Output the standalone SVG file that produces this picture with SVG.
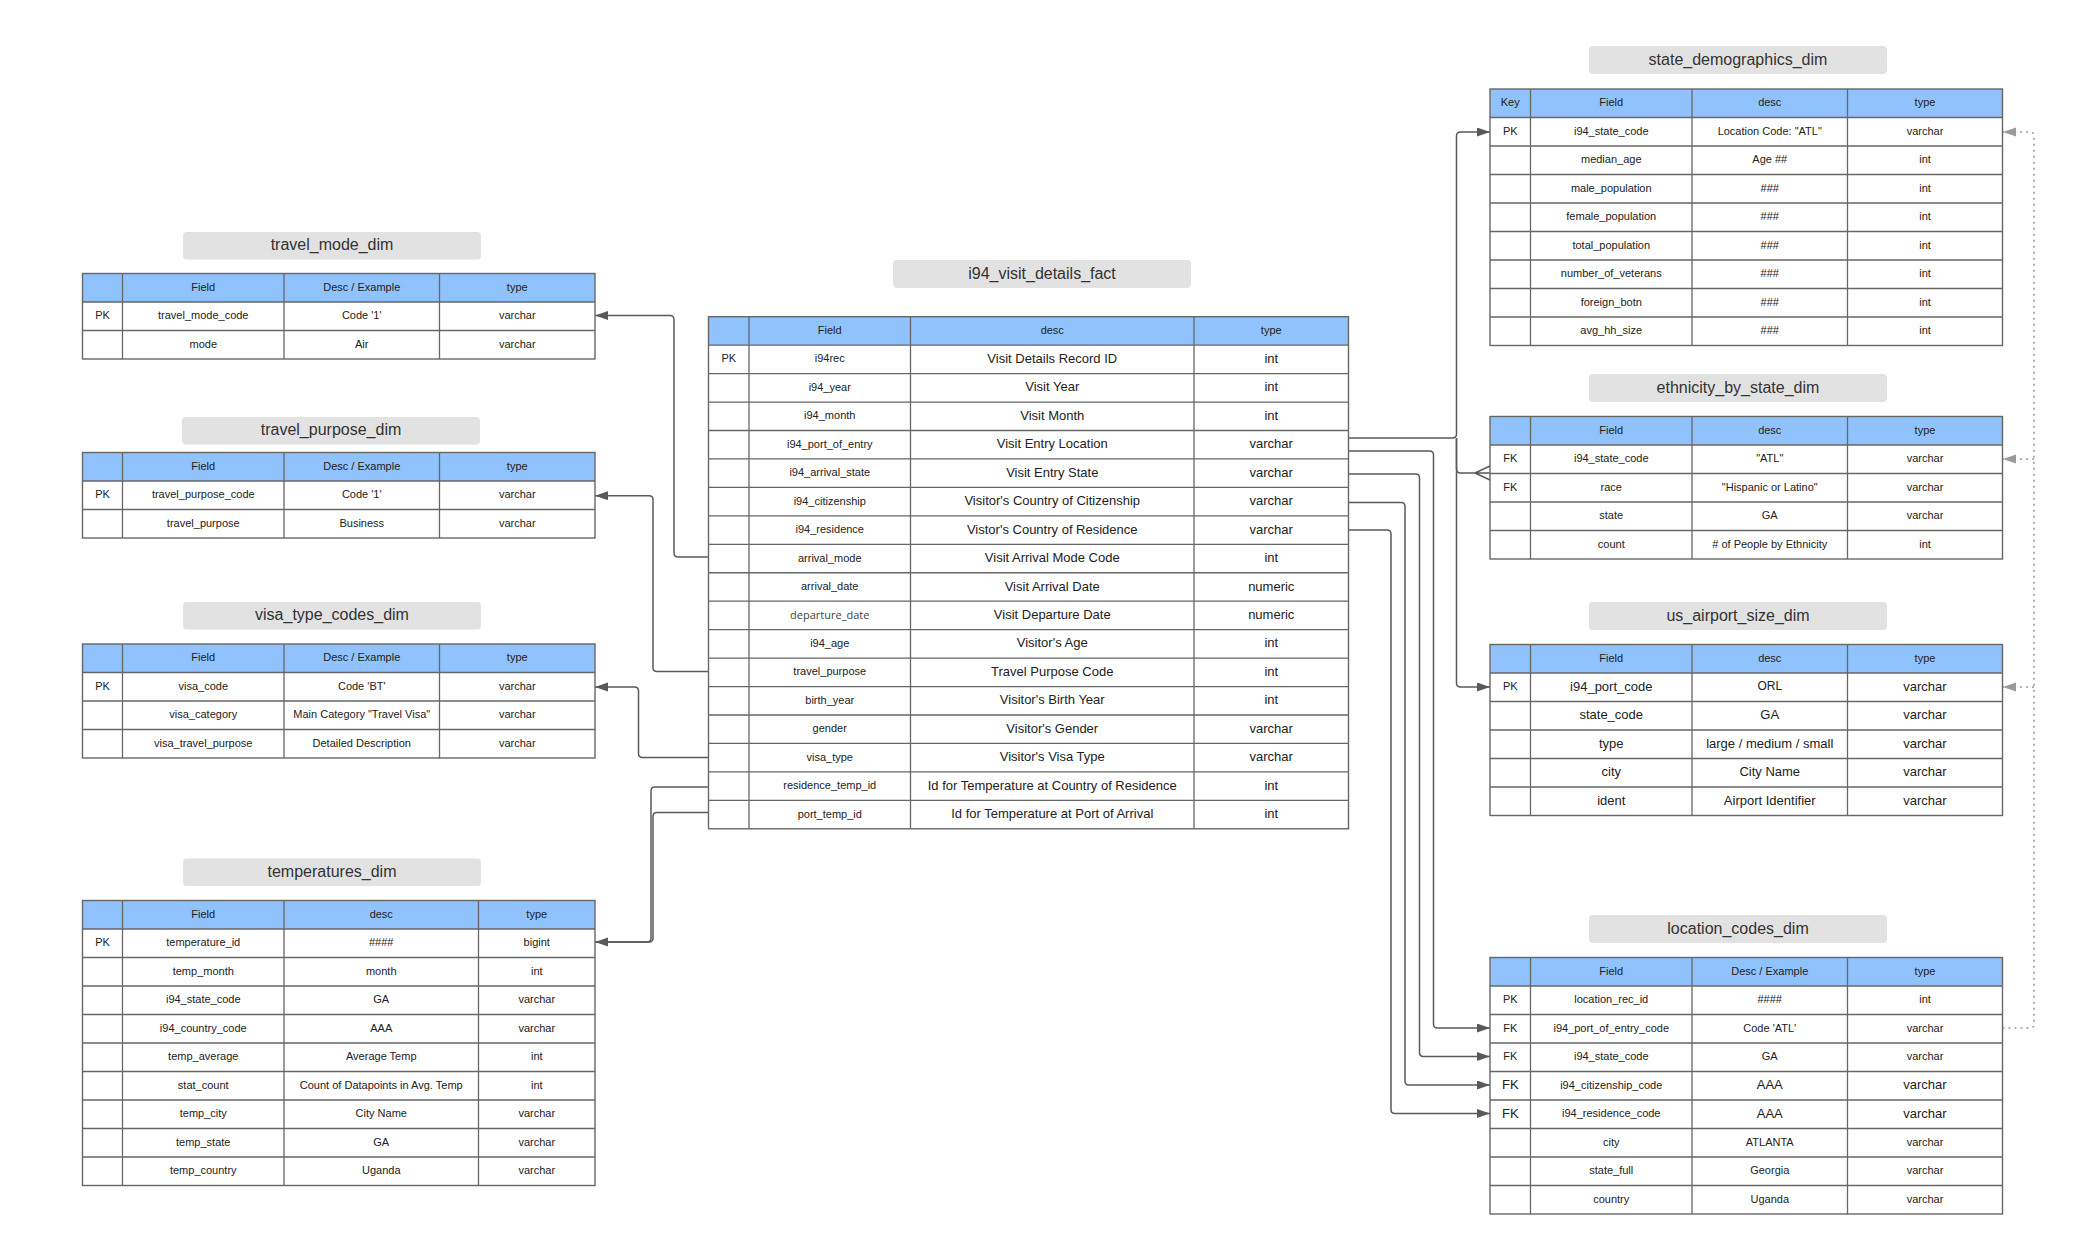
<svg xmlns="http://www.w3.org/2000/svg" width="2086" height="1252" viewBox="0 0 2086 1252">
<style>
text{font-family:"Liberation Sans",Arial,sans-serif;fill:#222;text-anchor:middle;dominant-baseline:central;font-size:11px;transform:translateY(-1px)}
.ttl{font-size:16px;fill:#333}
.tt{fill:#e2e2e2}
.hd{fill:#90c2fd}
.tb{fill:none;stroke:#676767;stroke-width:1.4}
.gl{fill:none;stroke:#676767;stroke-width:1.3}
.m{font-size:13px}
.s{font-size:12px}
.od{font-family:"Open Sans","Liberation Sans",sans-serif;fill:#444;font-size:11px}
.c{fill:none;stroke:#5a5a5a;stroke-width:1.5}
.d{fill:none;stroke:#9a9a9a;stroke-width:1.6;stroke-dasharray:2 4}
</style>
<defs>
<marker id="ar" markerUnits="userSpaceOnUse" markerWidth="14" markerHeight="10" refX="13" refY="4.5" orient="auto"><path d="M0,0L13,4.5L0,9z" fill="#595959"/></marker>
<marker id="ad" markerUnits="userSpaceOnUse" markerWidth="14" markerHeight="10" refX="13" refY="4.5" orient="auto"><path d="M0,0L13,4.5L0,9z" fill="#9a9a9a"/></marker>
</defs>
<rect width="2086" height="1252" fill="#fff"/>

<g id="connectors">
<path class="c" d="M708.5,557H678Q674,557 674,553V319.5Q674,315.5 670,315.5H595" marker-end="url(#ar)"/>
<path class="c" d="M708.5,671.6H657Q653,671.6 653,667.6V499.7Q653,495.7 649,495.7H595" marker-end="url(#ar)"/>
<path class="c" d="M708.5,757.5H642.5Q638.5,757.5 638.5,753.5V691Q638.5,687 634.5,687H595" marker-end="url(#ar)"/>
<path class="c" d="M708.5,787H655Q651,787 651,791V938Q651,942 647,942H595"/>
<path class="c" d="M708.5,812.5H657Q653,812.5 653,816.5V938Q653,942 649,942H595" marker-end="url(#ar)"/>
<path class="c" d="M1348.5,438H1452.5Q1456.5,438 1456.5,434V136Q1456.5,132 1460.5,132H1490" marker-end="url(#ar)"/>
<path class="c" d="M1456.5,438V469Q1456.5,473 1460.5,473H1490M1475,473L1490,466M1475,473L1490,480"/>
<path class="c" d="M1456.5,438V683Q1456.5,687 1460.5,687H1490" marker-end="url(#ar)"/>
<path class="c" d="M1348.5,451H1429.5Q1433.5,451 1433.5,455V1024Q1433.5,1028 1437.5,1028H1490" marker-end="url(#ar)"/>
<path class="c" d="M1348.5,474H1415.5Q1419.5,474 1419.5,478V1052.5Q1419.5,1056.5 1423.5,1056.5H1490" marker-end="url(#ar)"/>
<path class="c" d="M1348.5,502.5H1401Q1405,502.5 1405,506.5V1081Q1405,1085 1409,1085H1490" marker-end="url(#ar)"/>
<path class="c" d="M1348.5,530H1387Q1391,530 1391,534V1109.5Q1391,1113.5 1395,1113.5H1490" marker-end="url(#ar)"/>
<path class="d" d="M2002.5,1028H2030Q2034,1028 2034,1024V136Q2034,132 2030,132H2003" marker-end="url(#ad)"/>
<path class="d" d="M2034,459H2003" marker-end="url(#ad)"/>
<path class="d" d="M2034,687H2003" marker-end="url(#ad)"/>
</g>

<g id="travel_mode_dim">
<rect class="tt" x="183" y="232" width="298" height="27.5" rx="4"/>
<text class="ttl" x="332" y="245.75">travel_mode_dim</text>
<rect class="hd" x="82.5" y="273.5" width="512.5" height="28.5"/>
<path class="gl" d="M122.5,273.5V359M284,273.5V359M439.5,273.5V359M82.5,302H595M82.5,330.5H595"/>
<rect class="tb" x="82.5" y="273.5" width="512.5" height="85.5"/>
<text x="203.25" y="287.75">Field</text><text x="361.75" y="287.75">Desc / Example</text><text x="517.25" y="287.75">type</text>
<text x="102.5" y="316.25">PK</text><text x="203.25" y="316.25">travel_mode_code</text><text x="361.75" y="316.25">Code '1'</text><text x="517.25" y="316.25">varchar</text>
<text x="203.25" y="344.75">mode</text><text x="361.75" y="344.75">Air</text><text x="517.25" y="344.75">varchar</text>
</g>

<g id="travel_purpose_dim">
<rect class="tt" x="182" y="417" width="298" height="27.5" rx="4"/>
<text class="ttl" x="331" y="430.75">travel_purpose_dim</text>
<rect class="hd" x="82.5" y="452.5" width="512.5" height="28.5"/>
<path class="gl" d="M122.5,452.5V538M284,452.5V538M439.5,452.5V538M82.5,481H595M82.5,509.5H595"/>
<rect class="tb" x="82.5" y="452.5" width="512.5" height="85.5"/>
<text x="203.25" y="466.75">Field</text><text x="361.75" y="466.75">Desc / Example</text><text x="517.25" y="466.75">type</text>
<text x="102.5" y="495.25">PK</text><text x="203.25" y="495.25">travel_purpose_code</text><text x="361.75" y="495.25">Code '1'</text><text x="517.25" y="495.25">varchar</text>
<text x="203.25" y="523.75">travel_purpose</text><text x="361.75" y="523.75">Business</text><text x="517.25" y="523.75">varchar</text>
</g>

<g id="visa_type_codes_dim">
<rect class="tt" x="183" y="602" width="298" height="27.5" rx="4"/>
<text class="ttl" x="332" y="615.75">visa_type_codes_dim</text>
<rect class="hd" x="82.5" y="644" width="512.5" height="28.5"/>
<path class="gl" d="M122.5,644V758M284,644V758M439.5,644V758M82.5,672.5H595M82.5,701H595M82.5,729.5H595"/>
<rect class="tb" x="82.5" y="644" width="512.5" height="114"/>
<text x="203.25" y="658.25">Field</text><text x="361.75" y="658.25">Desc / Example</text><text x="517.25" y="658.25">type</text>
<text x="102.5" y="686.75">PK</text><text x="203.25" y="686.75">visa_code</text><text x="361.75" y="686.75">Code 'BT'</text><text x="517.25" y="686.75">varchar</text>
<text x="203.25" y="715.25">visa_category</text><text x="361.75" y="715.25">Main Category "Travel Visa"</text><text x="517.25" y="715.25">varchar</text>
<text x="203.25" y="743.75">visa_travel_purpose</text><text x="361.75" y="743.75">Detailed Description</text><text x="517.25" y="743.75">varchar</text>
</g>

<g id="temperatures_dim">
<rect class="tt" x="183" y="858.5" width="298" height="27.5" rx="4"/>
<text class="ttl" x="332" y="872.25">temperatures_dim</text>
<rect class="hd" x="82.5" y="900.5" width="512.5" height="28.5"/>
<path class="gl" d="M122.5,900.5V1185.5M284,900.5V1185.5M478.5,900.5V1185.5M82.5,929H595M82.5,957.5H595M82.5,986H595M82.5,1014.5H595M82.5,1043H595M82.5,1071.5H595M82.5,1100H595M82.5,1128.5H595M82.5,1157H595"/>
<rect class="tb" x="82.5" y="900.5" width="512.5" height="285"/>
<text x="203.25" y="914.75">Field</text><text x="381.25" y="914.75">desc</text><text x="536.75" y="914.75">type</text>
<text x="102.5" y="943.25">PK</text><text x="203.25" y="943.25">temperature_id</text><text x="381.25" y="943.25">####</text><text x="536.75" y="943.25">bigint</text>
<text x="203.25" y="971.75">temp_month</text><text x="381.25" y="971.75">month</text><text x="536.75" y="971.75">int</text>
<text x="203.25" y="1000.25">i94_state_code</text><text x="381.25" y="1000.25">GA</text><text x="536.75" y="1000.25">varchar</text>
<text x="203.25" y="1028.75">i94_country_code</text><text x="381.25" y="1028.75">AAA</text><text x="536.75" y="1028.75">varchar</text>
<text x="203.25" y="1057.25">temp_average</text><text x="381.25" y="1057.25">Average Temp</text><text x="536.75" y="1057.25">int</text>
<text x="203.25" y="1085.75">stat_count</text><text x="381.25" y="1085.75">Count of Datapoints in Avg. Temp</text><text x="536.75" y="1085.75">int</text>
<text x="203.25" y="1114.25">temp_city</text><text x="381.25" y="1114.25">City Name</text><text x="536.75" y="1114.25">varchar</text>
<text x="203.25" y="1142.75">temp_state</text><text x="381.25" y="1142.75">GA</text><text x="536.75" y="1142.75">varchar</text>
<text x="203.25" y="1171.25">temp_country</text><text x="381.25" y="1171.25">Uganda</text><text x="536.75" y="1171.25">varchar</text>
</g>

<g id="i94_visit_details_fact">
<rect class="tt" x="893" y="260" width="298" height="28" rx="4"/>
<text class="ttl" x="1042" y="274">i94_visit_details_fact</text>
<rect class="hd" x="708.5" y="316.7" width="640" height="28.45"/>
<path class="gl" d="M749,316.7V828.8M910.5,316.7V828.8M1194,316.7V828.8M708.5,345.15H1348.5M708.5,373.6H1348.5M708.5,402.05H1348.5M708.5,430.5H1348.5M708.5,458.95H1348.5M708.5,487.4H1348.5M708.5,515.85H1348.5M708.5,544.3H1348.5M708.5,572.75H1348.5M708.5,601.2H1348.5M708.5,629.65H1348.5M708.5,658.1H1348.5M708.5,686.55H1348.5M708.5,715H1348.5M708.5,743.45H1348.5M708.5,771.9H1348.5M708.5,800.35H1348.5"/>
<rect class="tb" x="708.5" y="316.7" width="640" height="512.1"/>
<text x="829.75" y="330.9">Field</text><text x="1052.25" y="330.9">desc</text><text x="1271.25" y="330.9">type</text>
<text x="728.75" y="359.4">PK</text><text x="829.75" y="359.4">i94rec</text><text class="m" x="1052.25" y="359.4">Visit Details Record ID</text><text class="m" x="1271.25" y="359.4">int</text>
<text x="829.75" y="387.8">i94_year</text><text class="m" x="1052.25" y="387.8">Visit Year</text><text class="m" x="1271.25" y="387.8">int</text>
<text x="829.75" y="416.3">i94_month</text><text class="m" x="1052.25" y="416.3">Visit Month</text><text class="m" x="1271.25" y="416.3">int</text>
<text x="829.75" y="444.7">i94_port_of_entry</text><text class="m" x="1052.25" y="444.7">Visit Entry Location</text><text class="m" x="1271.25" y="444.7">varchar</text>
<text x="829.75" y="473.2">i94_arrival_state</text><text class="m" x="1052.25" y="473.2">Visit Entry State</text><text class="m" x="1271.25" y="473.2">varchar</text>
<text x="829.75" y="501.6">i94_citizenship</text><text class="m" x="1052.25" y="501.6">Visitor's Country of Citizenship</text><text class="m" x="1271.25" y="501.6">varchar</text>
<text x="829.75" y="530.1">i94_residence</text><text class="m" x="1052.25" y="530.1">Vistor's Country of Residence</text><text class="m" x="1271.25" y="530.1">varchar</text>
<text x="829.75" y="558.5">arrival_mode</text><text class="m" x="1052.25" y="558.5">Visit Arrival Mode Code</text><text class="m" x="1271.25" y="558.5">int</text>
<text x="829.75" y="587">arrival_date</text><text class="m" x="1052.25" y="587">Visit Arrival Date</text><text class="m" x="1271.25" y="587">numeric</text>
<text class="od" x="829.75" y="615.4">departure_date</text><text class="m" x="1052.25" y="615.4">Visit Departure Date</text><text class="m" x="1271.25" y="615.4">numeric</text>
<text x="829.75" y="643.9">i94_age</text><text class="m" x="1052.25" y="643.9">Visitor's Age</text><text class="m" x="1271.25" y="643.9">int</text>
<text x="829.75" y="672.3">travel_purpose</text><text class="m" x="1052.25" y="672.3">Travel Purpose Code</text><text class="m" x="1271.25" y="672.3">int</text>
<text x="829.75" y="700.8">birth_year</text><text class="m" x="1052.25" y="700.8">Visitor's Birth Year</text><text class="m" x="1271.25" y="700.8">int</text>
<text x="829.75" y="729.2">gender</text><text class="m" x="1052.25" y="729.2">Visitor's Gender</text><text class="m" x="1271.25" y="729.2">varchar</text>
<text x="829.75" y="757.7">visa_type</text><text class="m" x="1052.25" y="757.7">Visitor's Visa Type</text><text class="m" x="1271.25" y="757.7">varchar</text>
<text x="829.75" y="786.1">residence_temp_id</text><text class="m" x="1052.25" y="786.1">Id for Temperature at Country of Residence</text><text class="m" x="1271.25" y="786.1">int</text>
<text x="829.75" y="814.6">port_temp_id</text><text class="m" x="1052.25" y="814.6">Id for Temperature at Port of Arrival</text><text class="m" x="1271.25" y="814.6">int</text>
</g>

<g id="state_demographics_dim">
<rect class="tt" x="1589" y="46" width="298" height="28" rx="4"/>
<text class="ttl" x="1738" y="60">state_demographics_dim</text>
<rect class="hd" x="1490" y="89" width="512.5" height="28.5"/>
<path class="gl" d="M1530.5,89V345.5M1692,89V345.5M1847.5,89V345.5M1490,117.5H2002.5M1490,146H2002.5M1490,174.5H2002.5M1490,203H2002.5M1490,231.5H2002.5M1490,260H2002.5M1490,288.5H2002.5M1490,317H2002.5"/>
<rect class="tb" x="1490" y="89" width="512.5" height="256.5"/>
<text x="1510.25" y="103.25">Key</text><text x="1611.25" y="103.25">Field</text><text x="1769.75" y="103.25">desc</text><text x="1925" y="103.25">type</text>
<text x="1510.25" y="131.75">PK</text><text x="1611.25" y="131.75">i94_state_code</text><text x="1769.75" y="131.75">Location Code: "ATL"</text><text x="1925" y="131.75">varchar</text>
<text x="1611.25" y="160.25">median_age</text><text x="1769.75" y="160.25">Age ##</text><text x="1925" y="160.25">int</text>
<text x="1611.25" y="188.75">male_population</text><text x="1769.75" y="188.75">###</text><text x="1925" y="188.75">int</text>
<text x="1611.25" y="217.25">female_population</text><text x="1769.75" y="217.25">###</text><text x="1925" y="217.25">int</text>
<text x="1611.25" y="245.75">total_population</text><text x="1769.75" y="245.75">###</text><text x="1925" y="245.75">int</text>
<text x="1611.25" y="274.25">number_of_veterans</text><text x="1769.75" y="274.25">###</text><text x="1925" y="274.25">int</text>
<text x="1611.25" y="302.75">foreign_botn</text><text x="1769.75" y="302.75">###</text><text x="1925" y="302.75">int</text>
<text x="1611.25" y="331.25">avg_hh_size</text><text x="1769.75" y="331.25">###</text><text x="1925" y="331.25">int</text>
</g>

<g id="ethnicity_by_state_dim">
<rect class="tt" x="1589" y="374" width="298" height="28" rx="4"/>
<text class="ttl" x="1738" y="388">ethnicity_by_state_dim</text>
<rect class="hd" x="1490" y="416.5" width="512.5" height="28.5"/>
<path class="gl" d="M1530.5,416.5V559M1692,416.5V559M1847.5,416.5V559M1490,445H2002.5M1490,473.5H2002.5M1490,502H2002.5M1490,530.5H2002.5"/>
<rect class="tb" x="1490" y="416.5" width="512.5" height="142.5"/>
<text x="1611.25" y="430.75">Field</text><text x="1769.75" y="430.75">desc</text><text x="1925" y="430.75">type</text>
<text x="1510.25" y="459.25">FK</text><text x="1611.25" y="459.25">i94_state_code</text><text x="1769.75" y="459.25">"ATL"</text><text x="1925" y="459.25">varchar</text>
<text x="1510.25" y="487.75">FK</text><text x="1611.25" y="487.75">race</text><text x="1769.75" y="487.75">"Hispanic or Latino"</text><text x="1925" y="487.75">varchar</text>
<text x="1611.25" y="516.25">state</text><text x="1769.75" y="516.25">GA</text><text x="1925" y="516.25">varchar</text>
<text x="1611.25" y="544.75">count</text><text x="1769.75" y="544.75"># of People by Ethnicity</text><text x="1925" y="544.75">int</text>
</g>

<g id="us_airport_size_dim">
<rect class="tt" x="1589" y="602" width="298" height="28" rx="4"/>
<text class="ttl" x="1738" y="616">us_airport_size_dim</text>
<rect class="hd" x="1490" y="644.5" width="512.5" height="28.5"/>
<path class="gl" d="M1530.5,644.5V815.5M1692,644.5V815.5M1847.5,644.5V815.5M1490,673H2002.5M1490,701.5H2002.5M1490,730H2002.5M1490,758.5H2002.5M1490,787H2002.5"/>
<rect class="tb" x="1490" y="644.5" width="512.5" height="171"/>
<text x="1611.25" y="658.75">Field</text><text x="1769.75" y="658.75">desc</text><text x="1925" y="658.75">type</text>
<text x="1510.25" y="687.25">PK</text><text class="m" x="1611.25" y="687.25">i94_port_code</text><text class="s" x="1769.75" y="687.25">ORL</text><text class="m" x="1925" y="687.25">varchar</text>
<text class="m" x="1611.25" y="715.75">state_code</text><text class="m" x="1769.75" y="715.75">GA</text><text class="m" x="1925" y="715.75">varchar</text>
<text class="m" x="1611.25" y="744.25">type</text><text class="m" x="1769.75" y="744.25">large / medium / small</text><text class="m" x="1925" y="744.25">varchar</text>
<text class="m" x="1611.25" y="772.75">city</text><text class="m" x="1769.75" y="772.75">City Name</text><text class="m" x="1925" y="772.75">varchar</text>
<text class="m" x="1611.25" y="801.25">ident</text><text class="m" x="1769.75" y="801.25">Airport Identifier</text><text class="m" x="1925" y="801.25">varchar</text>
</g>

<g id="location_codes_dim">
<rect class="tt" x="1589" y="915" width="298" height="28" rx="4"/>
<text class="ttl" x="1738" y="929">location_codes_dim</text>
<rect class="hd" x="1490" y="957.5" width="512.5" height="28.5"/>
<path class="gl" d="M1530.5,957.5V1214M1692,957.5V1214M1847.5,957.5V1214M1490,986H2002.5M1490,1014.5H2002.5M1490,1043H2002.5M1490,1071.5H2002.5M1490,1100H2002.5M1490,1128.5H2002.5M1490,1157H2002.5M1490,1185.5H2002.5"/>
<rect class="tb" x="1490" y="957.5" width="512.5" height="256.5"/>
<text x="1611.25" y="971.75">Field</text><text x="1769.75" y="971.75">Desc / Example</text><text x="1925" y="971.75">type</text>
<text x="1510.25" y="1000.25">PK</text><text x="1611.25" y="1000.25">location_rec_id</text><text x="1769.75" y="1000.25">####</text><text x="1925" y="1000.25">int</text>
<text x="1510.25" y="1028.75">FK</text><text x="1611.25" y="1028.75">i94_port_of_entry_code</text><text x="1769.75" y="1028.75">Code 'ATL'</text><text x="1925" y="1028.75">varchar</text>
<text x="1510.25" y="1057.25">FK</text><text x="1611.25" y="1057.25">i94_state_code</text><text x="1769.75" y="1057.25">GA</text><text x="1925" y="1057.25">varchar</text>
<text class="m" x="1510.25" y="1085.75">FK</text><text x="1611.25" y="1085.75">i94_citizenship_code</text><text class="m" x="1769.75" y="1085.75">AAA</text><text class="m" x="1925" y="1085.75">varchar</text>
<text class="m" x="1510.25" y="1114.25">FK</text><text x="1611.25" y="1114.25">i94_residence_code</text><text class="m" x="1769.75" y="1114.25">AAA</text><text class="m" x="1925" y="1114.25">varchar</text>
<text x="1611.25" y="1142.75">city</text><text x="1769.75" y="1142.75">ATLANTA</text><text x="1925" y="1142.75">varchar</text>
<text x="1611.25" y="1171.25">state_full</text><text x="1769.75" y="1171.25">Georgia</text><text x="1925" y="1171.25">varchar</text>
<text x="1611.25" y="1199.75">country</text><text x="1769.75" y="1199.75">Uganda</text><text x="1925" y="1199.75">varchar</text>
</g>
</svg>
